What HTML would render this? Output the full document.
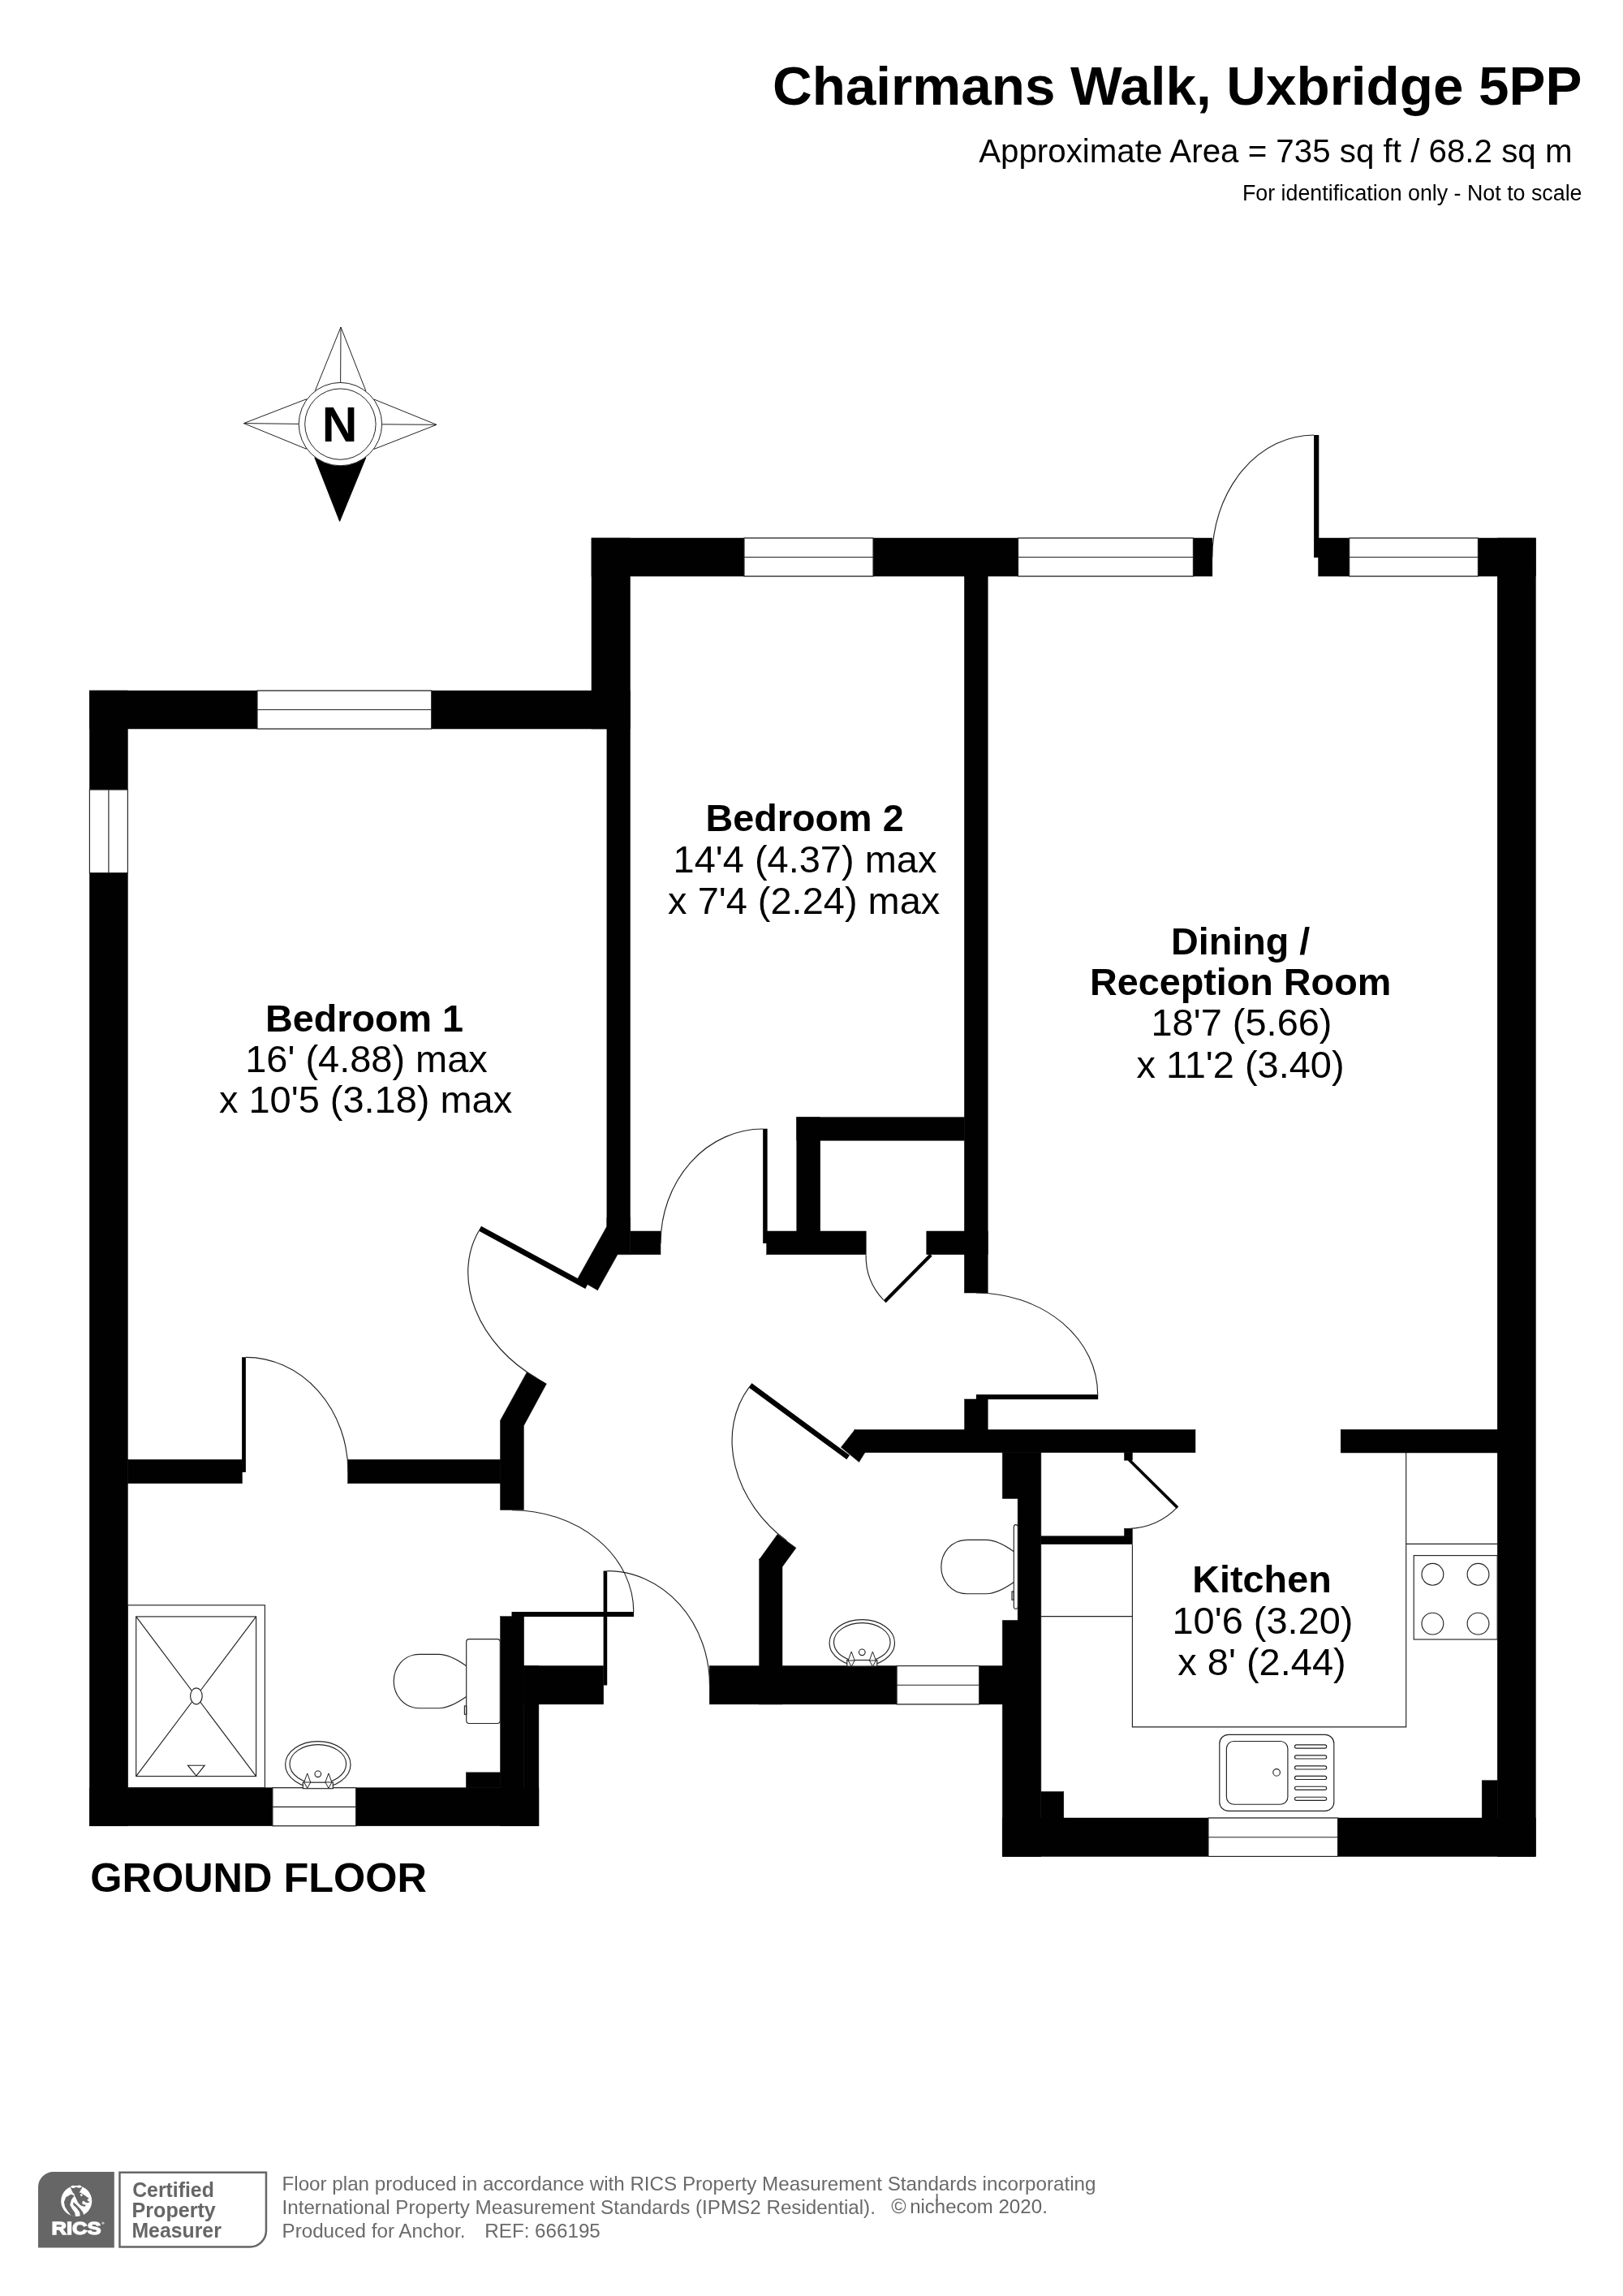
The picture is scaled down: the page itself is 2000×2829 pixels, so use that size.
<!DOCTYPE html>
<html><head><meta charset="utf-8"><title>Floor plan</title>
<style>
html,body{margin:0;padding:0;background:#fff;}
body{width:2000px;height:2829px;position:relative;overflow:hidden;font-family:"Liberation Sans",sans-serif;color:#000;}
.t{position:absolute;white-space:nowrap;line-height:1;}
.r{text-align:right;}
.c{text-align:center;transform:translateX(-50%);}
.b{font-weight:bold;}
svg{will-change:transform;opacity:0.999;}
</style></head><body>
<svg width="2000" height="2829" viewBox="0 0 2000 2829" style="position:absolute;left:0;top:0">
<rect x="110.4" y="851.0" width="47.0" height="1398.8" fill="#000" stroke="#000" stroke-width="0.5"/>
<rect x="110.4" y="851.0" width="666.1" height="47.0" fill="#000" stroke="#000" stroke-width="0.5"/>
<rect x="729.0" y="663.0" width="47.5" height="235.0" fill="#000" stroke="#000" stroke-width="0.5"/>
<rect x="747.9" y="898.0" width="28.6" height="619.0" fill="#000" stroke="#000" stroke-width="0.5"/>
<rect x="729.0" y="663.0" width="1163.4" height="47.0" fill="#000" stroke="#000" stroke-width="0.5"/>
<rect x="1188.4" y="710.0" width="28.8" height="883.0" fill="#000" stroke="#000" stroke-width="0.5"/>
<rect x="1845.2" y="663.0" width="47.2" height="1624.4" fill="#000" stroke="#000" stroke-width="0.5"/>
<rect x="776.5" y="1517.0" width="37.5" height="28.8" fill="#000" stroke="#000" stroke-width="0.5"/>
<rect x="944.7" y="1517.0" width="122.5" height="28.8" fill="#000" stroke="#000" stroke-width="0.5"/>
<rect x="1141.8" y="1517.0" width="75.4" height="28.8" fill="#000" stroke="#000" stroke-width="0.5"/>
<rect x="981.8" y="1376.7" width="206.6" height="28.5" fill="#000" stroke="#000" stroke-width="0.5"/>
<rect x="981.8" y="1376.7" width="28.9" height="140.3" fill="#000" stroke="#000" stroke-width="0.5"/>
<polygon points="747.9,1500.0 776.5,1500.0 776.5,1545.8 761.0,1545.8 736.4,1589.8 711.8,1575.6 747.9,1510.9" fill="#000" stroke="#000" stroke-width="0.5"/>
<polygon points="649.3,1690.7 673.4,1705.0 645.4,1756.7 645.4,1860.4 616.5,1860.4 616.5,1750.2" fill="#000" stroke="#000" stroke-width="0.5"/>
<rect x="157.4" y="1798.5" width="141.0" height="29.3" fill="#000" stroke="#000" stroke-width="0.5"/>
<rect x="428.6" y="1798.5" width="188.1" height="29.3" fill="#000" stroke="#000" stroke-width="0.5"/>
<rect x="616.5" y="1991.7" width="29.1" height="258.1" fill="#000" stroke="#000" stroke-width="0.5"/>
<rect x="645.6" y="2052.6" width="18.3" height="197.2" fill="#000" stroke="#000" stroke-width="0.5"/>
<rect x="645.6" y="2052.6" width="98.1" height="47.3" fill="#000" stroke="#000" stroke-width="0.5"/>
<rect x="110.4" y="2202.8" width="553.5" height="47.0" fill="#000" stroke="#000" stroke-width="0.5"/>
<rect x="574.4" y="2183.9" width="42.3" height="18.9" fill="#000" stroke="#000" stroke-width="0.5"/>
<rect x="874.3" y="2052.6" width="361.7" height="47.3" fill="#000" stroke="#000" stroke-width="0.5"/>
<rect x="935.7" y="1921.0" width="28.3" height="178.9" fill="#000" stroke="#000" stroke-width="0.5"/>
<polygon points="935.7,1921.5 958.1,1890.4 981.0,1907.2 964.0,1930.6" fill="#000" stroke="#000" stroke-width="0.5"/>
<rect x="1053.0" y="1761.7" width="420.0" height="28.1" fill="#000" stroke="#000" stroke-width="0.5"/>
<polygon points="1053.3,1761.7 1066.0,1789.6 1058.6,1801.4 1036.4,1783.3" fill="#000" stroke="#000" stroke-width="0.5"/>
<rect x="1188.6" y="1724.0" width="28.6" height="38.0" fill="#000" stroke="#000" stroke-width="0.5"/>
<polygon points="1235.3,1789.6 1282.8,1789.6 1282.8,2287.4 1235.3,2287.4 1235.3,1996.5 1254.2,1996.5 1254.2,1846.4 1235.3,1846.4" fill="#000" stroke="#000" stroke-width="0.5"/>
<rect x="1235.3" y="2240.0" width="657.1" height="47.4" fill="#000" stroke="#000" stroke-width="0.5"/>
<rect x="1652.2" y="1761.5" width="193.8" height="28.5" fill="#000" stroke="#000" stroke-width="0.5"/>
<rect x="1282.8" y="2207.6" width="28.0" height="32.4" fill="#000" stroke="#000" stroke-width="0.5"/>
<rect x="1826.2" y="2193.8" width="19.0" height="46.2" fill="#000" stroke="#000" stroke-width="0.5"/>
<rect x="1385.5" y="1789.8" width="9.9" height="9.4" fill="#000" stroke="#000" stroke-width="0.5"/>
<rect x="1385.5" y="1883.3" width="9.9" height="9.5" fill="#000" stroke="#000" stroke-width="0.5"/>
<rect x="1282.8" y="1892.8" width="112.6" height="9.9" fill="#000" stroke="#000" stroke-width="0.5"/>
<rect x="317.0" y="851.0" width="214.7" height="47.0" fill="#fff" stroke="#222" stroke-width="1.15"/>
<line x1="317.0" y1="874.5" x2="531.7" y2="874.5" stroke="#222" stroke-width="1.15"/>
<rect x="110.4" y="973.0" width="47.0" height="102.6" fill="#fff" stroke="#222" stroke-width="1.15"/>
<line x1="133.9" y1="973.0" x2="133.9" y2="1075.6" stroke="#222" stroke-width="1.15"/>
<rect x="917.0" y="663.0" width="159.0" height="47.0" fill="#fff" stroke="#222" stroke-width="1.15"/>
<line x1="917.0" y1="686.5" x2="1076.0" y2="686.5" stroke="#222" stroke-width="1.15"/>
<rect x="1254.6" y="663.0" width="215.8" height="47.0" fill="#fff" stroke="#222" stroke-width="1.15"/>
<line x1="1254.6" y1="686.5" x2="1470.4" y2="686.5" stroke="#222" stroke-width="1.15"/>
<rect x="1494.1" y="662.0" width="130.2" height="49.0" fill="#fff" />
<rect x="1662.7" y="663.0" width="158.7" height="47.0" fill="#fff" stroke="#222" stroke-width="1.15"/>
<line x1="1662.7" y1="686.5" x2="1821.4" y2="686.5" stroke="#222" stroke-width="1.15"/>
<rect x="335.9" y="2202.8" width="102.7" height="47.0" fill="#fff" stroke="#222" stroke-width="1.15"/>
<line x1="335.9" y1="2226.3" x2="438.6" y2="2226.3" stroke="#222" stroke-width="1.15"/>
<rect x="1105.1" y="2052.6" width="101.6" height="47.3" fill="#fff" stroke="#222" stroke-width="1.15"/>
<line x1="1105.1" y1="2076.2" x2="1206.7" y2="2076.2" stroke="#222" stroke-width="1.15"/>
<rect x="1489.0" y="2240.0" width="159.5" height="47.4" fill="#fff" stroke="#222" stroke-width="1.15"/>
<line x1="1489.0" y1="2263.7" x2="1648.5" y2="2263.7" stroke="#222" stroke-width="1.15"/>
<path d="M1619.1,536.0 A125.3,151.0 180.0 0 0 1493.8,687.0" fill="none" stroke="#222" stroke-width="1.15"/>
<line x1="1622.2" y1="687.0" x2="1622.2" y2="536.0" stroke="#000" stroke-width="6.2"/>
<path d="M302.9,1672.4 A126.1,141.5 0.0 0 1 429.0,1813.9" fill="none" stroke="#222" stroke-width="1.15"/>
<line x1="300.5" y1="1813.9" x2="300.5" y2="1672.2" stroke="#000" stroke-width="4.8"/>
<path d="M590.0,1516.7 A121.4,152.2 120.0 0 0 661.1,1697.9" fill="none" stroke="#222" stroke-width="1.15"/>
<line x1="722.9" y1="1585.0" x2="591.4" y2="1513.6" stroke="#000" stroke-width="6.7"/>
<path d="M940.1,1391.0 A126.0,140.9 180.0 0 0 814.1,1531.9" fill="none" stroke="#222" stroke-width="1.15"/>
<line x1="942.9" y1="1531.9" x2="942.9" y2="1390.7" stroke="#000" stroke-width="5.5"/>
<path d="M1088.7,1601.7 A78.5,78.5 0 0 1 1067.1,1546.2" fill="none" stroke="#222" stroke-width="1.15"/>
<line x1="1147.2" y1="1546.2" x2="1090.2" y2="1603.8" stroke="#000" stroke-width="4.2"/>
<path d="M1352.7,1718.2 A125.2,149.8 270.0 0 0 1202.9,1593.0" fill="none" stroke="#222" stroke-width="1.15"/>
<line x1="1202.9" y1="1721.2" x2="1353.2" y2="1721.2" stroke="#000" stroke-width="6.1"/>
<path d="M922.9,1709.6 A124.4,149.6 126.4 0 0 969.5,1898.5" fill="none" stroke="#222" stroke-width="1.15"/>
<line x1="1045.2" y1="1795.7" x2="924.5" y2="1706.8" stroke="#000" stroke-width="6.4"/>
<path d="M780.8,1986.0 A125.3,149.9 270.0 0 0 630.9,1860.7" fill="none" stroke="#222" stroke-width="1.15"/>
<line x1="630.5" y1="1989.0" x2="781.1" y2="1989.0" stroke="#000" stroke-width="6.1"/>
<path d="M748.2,1935.6 A126.3,141.0 0.0 0 1 874.5,2076.6" fill="none" stroke="#222" stroke-width="1.15"/>
<line x1="745.9" y1="2076.6" x2="745.9" y2="1935.6" stroke="#000" stroke-width="4.6"/>
<path d="M1451.3,1856.7 A84.5,84.5 0 0 1 1390.6,1883.5" fill="none" stroke="#222" stroke-width="1.15"/>
<line x1="1391.2" y1="1798.5" x2="1451" y2="1857.6" stroke="#000" stroke-width="3.6"/>
<path d="M1395.4,1902.7 V2127.8 H1732.7 V1790" fill="none" stroke="#222" stroke-width="1.15"/>
<line x1="1282.8" y1="1991.6" x2="1395.4" y2="1991.6" stroke="#222" stroke-width="1.15"/>
<line x1="1732.7" y1="1902.4" x2="1845.2" y2="1902.4" stroke="#222" stroke-width="1.15"/>
<rect x="1742.2" y="1916.6" width="103" height="103.4" fill="none" stroke="#222" stroke-width="1.15"/>
<circle cx="1765.4" cy="1939.8" r="13.4" fill="none" stroke="#222" stroke-width="1.15"/>
<circle cx="1765.4" cy="2000.6" r="13.4" fill="none" stroke="#222" stroke-width="1.15"/>
<circle cx="1821.5" cy="1939.8" r="13.4" fill="none" stroke="#222" stroke-width="1.15"/>
<circle cx="1821.5" cy="2000.6" r="13.4" fill="none" stroke="#222" stroke-width="1.15"/>
<rect x="1502.8" y="2137.3" width="141" height="94.1" rx="11" fill="none" stroke="#222" stroke-width="1.15"/>
<rect x="1511.4" y="2145.5" width="75.5" height="77.7" rx="9" fill="none" stroke="#222" stroke-width="1.15"/>
<circle cx="1573.1" cy="2183.9" r="4.3" fill="none" stroke="#222" stroke-width="1.15"/>
<rect x="1595.5" y="2149.9" width="39.2" height="4.2" rx="2.1" fill="none" stroke="#222" stroke-width="1.15"/>
<rect x="1595.5" y="2162.8" width="39.2" height="4.2" rx="2.1" fill="none" stroke="#222" stroke-width="1.15"/>
<rect x="1595.5" y="2175.8" width="39.2" height="4.2" rx="2.1" fill="none" stroke="#222" stroke-width="1.15"/>
<rect x="1595.5" y="2188.3" width="39.2" height="4.2" rx="2.1" fill="none" stroke="#222" stroke-width="1.15"/>
<rect x="1595.5" y="2201.2" width="39.2" height="4.2" rx="2.1" fill="none" stroke="#222" stroke-width="1.15"/>
<rect x="1595.5" y="2214.2" width="39.2" height="4.2" rx="2.1" fill="none" stroke="#222" stroke-width="1.15"/>
<rect x="157.4" y="1977.8" width="169" height="225" fill="none" stroke="#222" stroke-width="1.15"/>
<rect x="167.7" y="1991.9" width="147.9" height="196.7" fill="none" stroke="#222" stroke-width="1.15"/>
<path d="M167.7,1991.9 L315.6,2188.6 M315.6,1991.9 L167.7,2188.6" fill="none" stroke="#222" stroke-width="1.15"/>
<ellipse cx="241.9" cy="2089.8" rx="7.3" ry="10" fill="#fff" stroke="#222" stroke-width="1.15"/>
<polygon points="231.5,2175.2 252.2,2175.2 241.9,2188.2" fill="none" stroke="#222" stroke-width="1.15"/>
<ellipse cx="391.8" cy="2174.2" rx="40.2" ry="28.6" fill="#fff" stroke="#222" stroke-width="1.15"/>
<ellipse cx="391.8" cy="2173.6" rx="34.8" ry="24" fill="none" stroke="#222" stroke-width="1.15"/>
<rect x="373.3" y="2196.2" width="37" height="7.5" fill="#fff" stroke="#222" stroke-width="1.15"/>
<circle cx="391.8" cy="2185.7999999999997" r="3.8" fill="none" stroke="#222" stroke-width="1.15"/>
<path d="M378.7,2185.0 L374.7,2196.0 L378.7,2203.3 L382.7,2196.0 Z M374.7,2196.0 H382.7" fill="#fff" stroke="#222" stroke-width="1"/>
<path d="M404.90000000000003,2185.0 L400.90000000000003,2196.0 L404.90000000000003,2203.3 L408.90000000000003,2196.0 Z M400.90000000000003,2196.0 H408.90000000000003" fill="#fff" stroke="#222" stroke-width="1"/>
<rect x="574.7" y="2019.6" width="41.6" height="103.90000000000009" rx="3.5" fill="#fff" stroke="#222" stroke-width="1.15"/>
<rect x="572.4000000000001" y="2102.0" width="2.3" height="10.3" fill="none" stroke="#222" stroke-width="1.15"/>
<path d="M574.7,2052.7 C564.7,2045.5 552.7,2038.3 540.7,2038.3 H517.2 C496.70000000000005,2038.3 485.20000000000005,2055.5 485.20000000000005,2071.5 C485.20000000000005,2087.5 496.70000000000005,2104.7 517.2,2104.7 H540.7 C552.7,2104.7 564.7,2097.5 574.7,2090.5" fill="none" stroke="#222" stroke-width="1.15"/>
<ellipse cx="1062.3" cy="2024.2" rx="40.2" ry="28.6" fill="#fff" stroke="#222" stroke-width="1.15"/>
<ellipse cx="1062.3" cy="2023.6000000000001" rx="34.8" ry="24" fill="none" stroke="#222" stroke-width="1.15"/>
<rect x="1043.8" y="2045.5" width="37" height="7.5" fill="#fff" stroke="#222" stroke-width="1.15"/>
<circle cx="1062.3" cy="2035.8" r="3.8" fill="none" stroke="#222" stroke-width="1.15"/>
<path d="M1049.2,2035.0 L1045.2,2046.0 L1049.2,2053.3 L1053.2,2046.0 Z M1045.2,2046.0 H1053.2" fill="#fff" stroke="#222" stroke-width="1"/>
<path d="M1075.3999999999999,2035.0 L1071.3999999999999,2046.0 L1075.3999999999999,2053.3 L1079.3999999999999,2046.0 Z M1071.3999999999999,2046.0 H1079.3999999999999" fill="#fff" stroke="#222" stroke-width="1"/>
<rect x="1249.3" y="1878.6" width="5" height="103.90000000000009" rx="3.5" fill="#fff" stroke="#222" stroke-width="1.15"/>
<rect x="1247.0" y="1961.0" width="2.3" height="10.3" fill="none" stroke="#222" stroke-width="1.15"/>
<path d="M1249.3,1911.7 C1239.3,1904.5 1227.3,1897.3 1215.3,1897.3 H1191.8 C1171.3,1897.3 1159.8,1914.5 1159.8,1930.5 C1159.8,1946.5 1171.3,1963.7 1191.8,1963.7 H1215.3 C1227.3,1963.7 1239.3,1956.5 1249.3,1949.5" fill="none" stroke="#222" stroke-width="1.15"/>
</svg>
<svg width="2000" height="2829" viewBox="0 0 2000 2829" style="position:absolute;left:0;top:0">
<g fill="#fff" stroke="#222" stroke-width="1" stroke-linejoin="miter">
<polygon points="420,403 388.3,481.5 450.8,481.5"/>
<line x1="420" y1="403" x2="419.6" y2="475"/>
<polygon points="300.4,521.6 377.5,491.8 377.5,553.2"/>
<line x1="300.4" y1="521.6" x2="372" y2="522.4"/>
<polygon points="538,523.3 460.9,492 460.9,553.4"/>
<line x1="538" y1="523.3" x2="466" y2="522.8"/>
<polygon points="418.6,642.3 387.8,563.7 450.8,563.7" fill="#000" stroke="#000"/>
<circle cx="419.4" cy="522.6" r="51.2"/>
<circle cx="419.4" cy="522.6" r="43.7"/>
</g>
<text x="418.7" y="544.3" font-family="Liberation Sans, sans-serif" font-weight="bold" font-size="60.5" text-anchor="middle" fill="#000">N</text>
</svg>
<svg width="2000" height="2829" viewBox="0 0 2000 2829" style="position:absolute;left:0;top:0" font-family="Liberation Sans, sans-serif">
<text x="1949.5" y="129" font-size="67.4" font-weight="bold" text-anchor="end" fill="#000" >Chairmans Walk, Uxbridge 5PP</text>
<text x="1937.5" y="200" font-size="40.3" text-anchor="end" fill="#000" >Approximate Area = 735 sq ft / 68.2 sq m</text>
<text x="1949.5" y="247" font-size="26.8" text-anchor="end" fill="#000" >For identification only - Not to scale</text>
<text x="449" y="1271" font-size="45.8" font-weight="bold" text-anchor="middle" fill="#000"  transform="translate(449,0) scale(1.021,1) translate(-449,0)">Bedroom 1</text>
<text x="451.5" y="1321.3" font-size="46.6" text-anchor="middle" fill="#000"  transform="translate(451.5,0) scale(1.008,1) translate(-451.5,0)">16' (4.88) max</text>
<text x="450.6" y="1371.5" font-size="46.6" text-anchor="middle" fill="#000"  transform="translate(450.6,0) scale(1.008,1) translate(-450.6,0)">x 10'5 (3.18) max</text>
<text x="991.6" y="1024.1" font-size="45.8" font-weight="bold" text-anchor="middle" fill="#000"  transform="translate(991.6,0) scale(1.021,1) translate(-991.6,0)">Bedroom 2</text>
<text x="992" y="1075.2" font-size="46.6" text-anchor="middle" fill="#000"  transform="translate(992,0) scale(1.008,1) translate(-992,0)">14'4 (4.37) max</text>
<text x="990.7" y="1126.4" font-size="46.6" text-anchor="middle" fill="#000"  transform="translate(990.7,0) scale(1.008,1) translate(-990.7,0)">x 7'4 (2.24) max</text>
<text x="1528.6" y="1175.6" font-size="45.8" font-weight="bold" text-anchor="middle" fill="#000"  transform="translate(1528.6,0) scale(1.021,1) translate(-1528.6,0)">Dining /</text>
<text x="1528.6" y="1226.2" font-size="45.8" font-weight="bold" text-anchor="middle" fill="#000"  transform="translate(1528.6,0) scale(1.021,1) translate(-1528.6,0)">Reception Room</text>
<text x="1530" y="1276.1" font-size="46.6" text-anchor="middle" fill="#000"  transform="translate(1530,0) scale(1.008,1) translate(-1530,0)">18'7 (5.66)</text>
<text x="1528.6" y="1327.8" font-size="46.6" text-anchor="middle" fill="#000"  transform="translate(1528.6,0) scale(1.008,1) translate(-1528.6,0)">x 11'2 (3.40)</text>
<text x="1555" y="1962.2" font-size="45.8" font-weight="bold" text-anchor="middle" fill="#000"  transform="translate(1555,0) scale(1.021,1) translate(-1555,0)">Kitchen</text>
<text x="1556" y="2012.7" font-size="46.6" text-anchor="middle" fill="#000"  transform="translate(1556,0) scale(1.008,1) translate(-1556,0)">10'6 (3.20)</text>
<text x="1555" y="2063.6" font-size="46.6" text-anchor="middle" fill="#000"  transform="translate(1555,0) scale(1.008,1) translate(-1555,0)">x 8' (2.44)</text>
<text x="111.3" y="2330.9" font-size="50.45" font-weight="bold" text-anchor="start" fill="#000" >GROUND FLOOR</text>
<text x="347.5" y="2699" font-size="24.2" text-anchor="start" fill="#6a6a6a" >Floor plan produced in accordance with RICS Property Measurement Standards incorporating</text>
<text x="347.5" y="2728.4" font-size="24.2" text-anchor="start" fill="#6a6a6a" >International Property Measurement Standards (IPMS2 Residential).</text>
<text x="347.5" y="2757" font-size="24.2" text-anchor="start" fill="#6a6a6a" >Produced for Anchor.</text>
<text x="597.3" y="2757" font-size="24.2" text-anchor="start" fill="#6a6a6a" >REF: 666195</text>
</svg>
<svg width="2000" height="2829" viewBox="0 0 2000 2829" style="position:absolute;left:0;top:0" font-family="Liberation Sans, sans-serif">
<path d="M47,2769.6 V2694.8 A18.8,18.8 0 0 1 65.8,2676 H140.8 V2769.6 Z" fill="#666"/>
<g transform="translate(40,2670) scale(0.06777)">
<circle cx="800" cy="620" r="281" fill="#fff"/>
<path d="M686,366 L735,470 L770,505 L850,470 L910,366 Z" fill="#666"/>
<path d="M770,470 L870,465 L930,500 L1028,572 L990,600 L1045,642 L990,652 L955,640 L930,612 L902,640 L912,680 L972,690 L950,722 L880,702 L830,652 L800,585 L768,525 Z" fill="#666"/>
<circle cx="890" cy="512" r="20" fill="#fff"/>
<path d="M608,548 L700,498 L762,520 L705,600 L682,690 L720,760 L770,830 L782,905 L700,880 L640,805 L590,722 L574,640 Z" fill="#666"/>
<path d="M742,640 L790,680 L870,760 L920,830 L932,880 L868,900 L858,822 L800,742 L742,690 Z" fill="#666"/>
<ellipse cx="742" cy="360" rx="42" ry="24" fill="#fff"/>
<ellipse cx="848" cy="357" rx="42" ry="24" fill="#fff"/>
</g>
<text x="63.4" y="2753" font-size="22.4" font-weight="bold" fill="#fff" stroke="#fff" stroke-width="1.3" textLength="61.2" lengthAdjust="spacingAndGlyphs">RICS</text>
<circle cx="126.9" cy="2739.2" r="1.6" fill="#bbb"/>
<path d="M147.45,2676.75 H327.95 V2748.5 A20,20 0 0 1 307.95,2768.55 H147.45 Z" fill="#fff" stroke="#666" stroke-width="2.5"/>
<g font-weight="bold" font-size="25.6" fill="#666">
<text x="163.2" y="2706.7" textLength="100.6" lengthAdjust="spacingAndGlyphs">Certified</text>
<text x="162.6" y="2731.6" textLength="103.2" lengthAdjust="spacingAndGlyphs">Property</text>
<text x="162.4" y="2756.9" textLength="110.4" lengthAdjust="spacingAndGlyphs">Measurer</text>
</g>
<g font-size="24.2" fill="#666">
<text x="1098.2" y="2727.4" font-size="25">©</text>
<text x="1121.2" y="2727.4" textLength="102.6" lengthAdjust="spacingAndGlyphs" font-size="24.6">nichecom</text>
<line x1="1154.6" y1="2703" x2="1154.6" y2="2712" stroke="#666" stroke-width="1.8"/>
<text x="1230.4" y="2727.4">2020.</text>
</g>
</svg>
</body></html>
